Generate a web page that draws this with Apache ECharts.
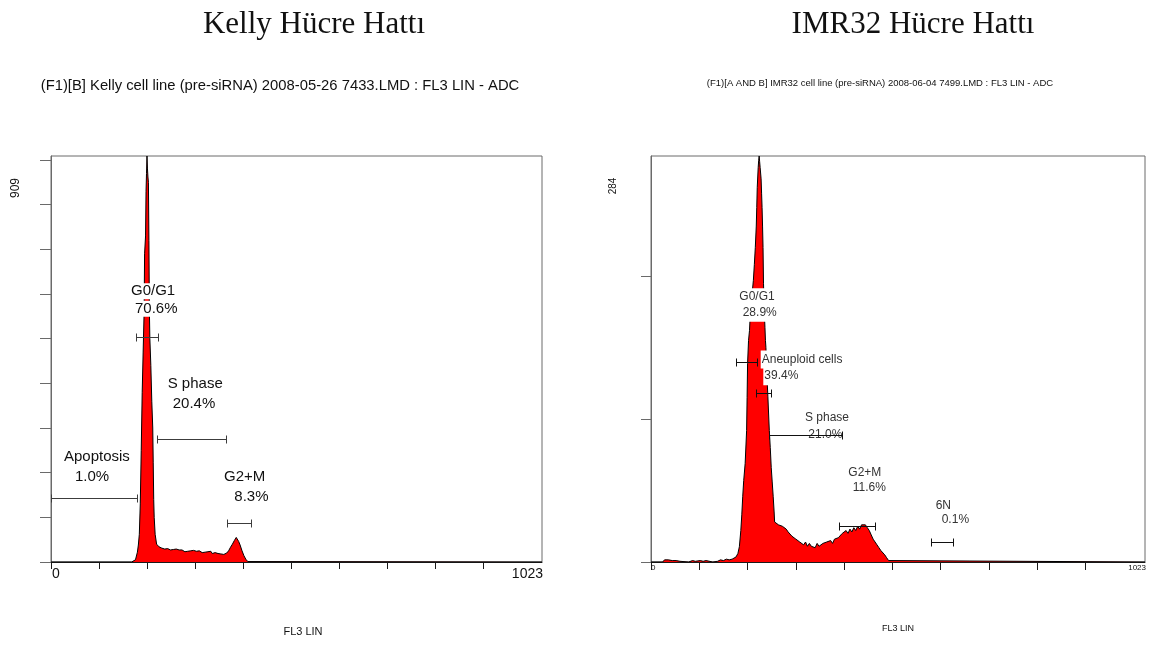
<!DOCTYPE html>
<html>
<head>
<meta charset="utf-8">
<script src="https://cdn.jsdelivr.net/npm/echarts@6/dist/echarts.min.js"></script>
<style>
html, body { margin: 0; padding: 0; background: #fff; }
#chart { width: 1153px; height: 645px; }
</style>
</head>
<body>
<div id="chart"></div>
<script>
// ---- Kelly cell line DNA histogram (FL3 LIN channel vs. count) ----
const kellyChannel = [
  0, 168, 172, 176, 180, 182, 184, 186, 188, 190, 192, 194, 195, 197, 198, 199, 200,
  201, 202, 203, 204, 205, 206, 208, 210, 212, 213, 214, 215, 217, 220,
  222, 225, 228, 231, 234, 237, 240, 243, 246, 249, 252, 255, 258, 261, 264, 267,
  270, 273, 276, 279, 282, 285, 288, 291, 294, 297, 300, 303, 306, 309, 312, 315,
  318, 321, 324, 327, 330, 333, 336, 339, 342, 345, 348, 351, 354, 357, 360, 363,
  366, 370, 374, 378, 382, 386, 388, 391, 394, 398, 402, 406,
  410, 412, 1023
];
const kellyCount = [
  0, 0, 2, 5, 22, 38, 62, 130, 250, 380, 470, 560, 690, 730, 830, 870, 909,
  880, 862, 850, 720, 560, 500, 440, 360, 300, 222, 140, 100, 62, 40,
  36, 34, 37, 31, 33, 29, 33, 30, 32, 27, 30, 28, 25, 29, 26, 27,
  24, 27, 25, 23, 27, 24, 22, 25, 23, 26, 22, 24, 21, 25, 23, 21,
  24, 22, 20, 23, 22, 24, 19, 23, 21, 22, 19, 20, 18, 21, 17, 19,
  20, 25, 33, 40, 48, 55, 54, 46, 38, 25, 14, 6,
  1, 0, 0
];

// ---- IMR32 cell line DNA histogram ----
const imrChannel = [
  0, 24, 28, 32, 36, 40, 44, 48, 52, 56, 60, 64, 78, 80, 86, 92, 96, 102, 108, 114,
  118, 128, 132, 138, 144, 150, 156, 162, 168, 172, 176, 180, 183, 186, 188, 190,
  192, 195, 198, 199, 200, 202, 204, 205, 208, 210, 212, 214, 216, 218, 219, 220,
  222, 223, 224, 225, 226, 228, 229, 230, 231, 232, 233, 234, 235, 236, 237, 238,
  240, 242, 244, 245, 247, 249, 251, 253, 255, 256, 258,
  260, 264, 268, 272, 276, 280, 284, 288, 292, 296, 300, 304, 308, 312, 316, 320,
  324, 328, 332, 336, 340, 344, 348, 352, 356, 360, 364, 368, 372, 376, 380, 384,
  388, 392, 396, 400, 404, 408, 412, 416, 420, 424, 428, 432, 436, 440, 444, 448,
  450, 452, 456, 460, 464, 468, 472, 476, 480, 484, 488, 492, 494, 1023
];
const imrCount = [
  0, 0, 1.5, 2, 1.5, 2, 1, 1.5, 1, 1.5, 0.5, 0, 0, 1, 1, 0.5, 1, 1, 0.5, 1,
  0, 0, 1, 0.5, 1.5, 1, 2, 1.5, 2, 2.5, 3.5, 6, 10.7, 22, 33, 46,
  57, 69, 92, 115, 139, 155, 162, 169, 180, 190, 197, 208, 220, 235, 248, 262,
  276, 281, 284, 280, 276, 268, 258, 248, 235, 220, 195, 182, 172, 164, 155, 150,
  130, 116, 100, 92, 80, 66, 56, 46, 35, 28, 27,
  27, 26, 27, 25, 26, 23, 21, 22, 18, 19, 16, 17, 14, 15, 12, 14,
  11, 13, 11, 12, 10, 13, 11, 12, 13, 12, 14, 13, 15, 13, 16, 15,
  17, 18, 20, 19, 22, 20, 23, 21, 24, 22, 25, 23, 26, 25, 26, 24,
  25, 22, 19, 16, 14, 12, 10, 8, 7, 5, 3, 1, 0, 0
];

// ---- Axis scales and tick values ----
const channelMax = 1023;
const kellyYMax = 909;
const imrYMax = 284;
const channelTicks = [0, 100, 200, 300, 400, 500, 600, 700, 800, 900];
const kellyYTicks = [0, 100, 200, 300, 400, 500, 600, 700, 800, 900];
const imrYTicks = [0, 100, 200];

// ---- Gates: name, percentage, channel range and marker height ----
const kellyGateName = ['Apoptosis', 'G0/G1', 'S phase', 'G2+M'];
const kellyGatePct = ['1.0%', '70.6%', '20.4%', '8.3%'];
const kellyGateStart = [0, 178, 221, 367];
const kellyGateEnd = [180, 222, 365, 416];
const kellyGateLevel = [144, 503, 275, 88];

const imrGateName = ['G0/G1', 'Aneuploid cells', 'S phase', 'G2+M', '6N'];
const imrGatePct = ['28.9%', '39.4%', '21.0%', '11.6%', '0.1%'];
const imrGateStart = [177, 217, 245, 389, 579];
const imrGateEnd = [219, 248, 395, 464, 625];
const imrGateLevel = [140, 118, 89, 25.4, 14.2];

// ---- Text ----
const titles = ['Kelly Hücre Hattı', 'IMR32 Hücre Hattı'];
const subtitles = [
  '(F1)[B] Kelly cell line (pre-siRNA) 2008-05-26 7433.LMD : FL3 LIN - ADC',
  '(F1)[A AND B] IMR32 cell line (pre-siRNA) 2008-06-04 7499.LMD : FL3 LIN - ADC'
];
const xAxisName = 'FL3 LIN';

const SANS = '"Liberation Sans", Arial, sans-serif';
const SERIF = '"Liberation Serif", "Times New Roman", serif';

// Panel geometry
const panels = [
  { left: 51, top: 156, width: 491, height: 406 },
  { left: 651, top: 156, width: 494, height: 406 }
];

// Gate label placement (pixel x / cap-top of the name line and the percentage line)
const kellyLabelPos = [
  [64, 451.7, 75, 471.7],
  [131, 285.7, 135, 303.3],
  [167.7, 378.3, 172.7, 398.3],
  [224, 471.7, 234.3, 491]
];
const imrLabelPos = [
  [739.3, 292.7, 742.7, 308.3],
  [761.7, 355, 764.3, 371.7],
  [805, 413.5, 808.3, 430],
  [848.3, 468.3, 852.7, 483.3],
  [935.7, 501, 941.7, 515]
];

function zip(xs, ys) { return xs.map((x, i) => [x, ys[i]]); }

function labelText(x, capTop, text, size, lineH, pad, color) {
  const y = capTop - (lineH / 2 - 0.37 * size) - pad;
  return {
    type: 'text', x: x - 1, y: y, z: 5, silent: true,
    style: {
      text: text, font: size + 'px ' + SANS, fill: color,
      align: 'left', verticalAlign: 'top', lineHeight: lineH,
      backgroundColor: '#ffffff', padding: [pad, 1, pad, 1]
    }
  };
}

function gateLabels(names, pcts, pos, size, lineH, pad, color) {
  const out = [];
  names.forEach((n, i) => {
    const p = pos[i];
    out.push(labelText(p[0], p[1], n, size, lineH, pad, color));
    out.push(labelText(p[2], p[3], pcts[i], size, lineH, pad, color));
  });
  return out;
}

function gateSeries(gi, starts, ends, levels, color, cap, width) {
  return {
    type: 'custom', xAxisIndex: gi, yAxisIndex: gi, z: 10, silent: true, clip: false,
    encode: { x: [0, 1], y: 2 },
    data: starts.map((s, i) => [s, ends[i], levels[i]]),
    renderItem: function (params, api) {
      const a = api.coord([api.value(0), api.value(2)]);
      const b = api.coord([api.value(1), api.value(2)]);
      const y = Math.round(a[1]) + 0.5;
      const x1 = Math.round(a[0]) + 0.5, x2 = Math.round(b[0]) + 0.5;
      const style = { stroke: color, lineWidth: width };
      return {
        type: 'group',
        children: [
          { type: 'line', shape: { x1: x1, y1: y, x2: x2, y2: y }, style: style },
          { type: 'line', shape: { x1: x1, y1: y - cap, x2: x1, y2: y + cap }, style: style },
          { type: 'line', shape: { x1: x2, y1: y - cap, x2: x2, y2: y + cap }, style: style }
        ]
      };
    }
  };
}

function histSeries(gi, data) {
  return {
    type: 'line', xAxisIndex: gi, yAxisIndex: gi, data: data,
    symbol: 'none', smooth: false, silent: true, z: 2,
    lineStyle: { color: '#000000', width: 1 },
    areaStyle: { color: '#ff0000', opacity: 1 }
  };
}

function xAxisCfg(gi, tickLen) {
  return {
    type: 'value', gridIndex: gi, min: 0, max: channelMax,
    axisLine: { show: true, onZero: false, lineStyle: { color: '#1a1a1a', width: 1 } },
    axisTick: { show: true, customValues: channelTicks, length: tickLen, lineStyle: { color: '#1a1a1a', width: 1 } },
    axisLabel: { show: false },
    splitLine: { show: false }
  };
}

function yAxisCfg(gi, max, ticks, tickLen) {
  return {
    type: 'value', gridIndex: gi, min: 0, max: max,
    axisLine: { show: true, onZero: false, lineStyle: { color: '#6a6a6a', width: 1 } },
    axisTick: { show: true, customValues: ticks, length: tickLen, lineStyle: { color: '#6a6a6a', width: 1 } },
    axisLabel: { show: false },
    splitLine: { show: false }
  };
}

function plainText(x, y, text, font, align, extra) {
  return Object.assign({
    type: 'text', x: x, y: y, silent: true,
    style: { text: text, font: font, fill: '#111', align: align, verticalAlign: 'middle' }
  }, extra || {});
}

const chart = echarts.init(document.getElementById('chart'), null, { renderer: 'canvas' });

const graphics = [
  // panel titles
  plainText(314, 25, titles[0], '31px ' + SERIF, 'center'),
  plainText(913, 25, titles[1], '31px ' + SERIF, 'center'),
  // file headers
  plainText(280, 86, subtitles[0], '14.8px ' + SANS, 'center'),
  plainText(880, 83, subtitles[1], '9.5px ' + SANS, 'center'),
  // y maximum labels
  plainText(16, 188, String(kellyYMax), '12px ' + SANS, 'center', { rotation: Math.PI / 2 }),
  plainText(613, 186, String(imrYMax), '10px ' + SANS, 'center', { rotation: Math.PI / 2 }),
  // channel range labels
  plainText(52, 574, String(channelTicks[0]), '14px ' + SANS, 'left'),
  plainText(543, 574, String(channelMax), '14px ' + SANS, 'right'),
  plainText(651, 568, String(channelTicks[0]), '8px ' + SANS, 'left'),
  plainText(1146, 568, String(channelMax), '8px ' + SANS, 'right'),
  // x axis names
  plainText(303, 632, xAxisName, '11px ' + SANS, 'center'),
  plainText(898, 629, xAxisName, '9px ' + SANS, 'center')
].concat(
  gateLabels(kellyGateName, kellyGatePct, kellyLabelPos, 15, 16, 0, '#111'),
  gateLabels(imrGateName, imrGatePct, imrLabelPos, 12, 14, 2, '#333')
);

chart.setOption({
  animation: false,
  backgroundColor: '#ffffff',
  grid: panels.map(p => ({
    left: p.left, top: p.top, width: p.width, height: p.height,
    show: true, borderColor: '#6a6a6a', borderWidth: 1, backgroundColor: 'transparent',
    containLabel: false
  })),
  xAxis: [xAxisCfg(0, 7), xAxisCfg(1, 8)],
  yAxis: [yAxisCfg(0, kellyYMax, kellyYTicks, 11), yAxisCfg(1, imrYMax, imrYTicks, 10)],
  series: [
    histSeries(0, zip(kellyChannel, kellyCount)),
    histSeries(1, zip(imrChannel, imrCount)),
    gateSeries(0, kellyGateStart, kellyGateEnd, kellyGateLevel, '#3c3c3c', 4, 1),
    gateSeries(1, imrGateStart, imrGateEnd, imrGateLevel, '#111111', 4, 1)
  ],
  graphic: graphics
});
</script>
</body>
</html>
